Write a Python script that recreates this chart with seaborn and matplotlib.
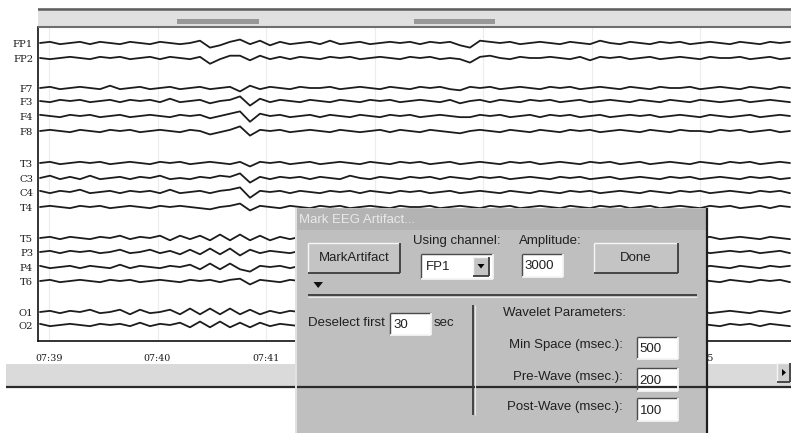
import numpy as np
import pandas as pd
import matplotlib
matplotlib.use("Agg")
import matplotlib.pyplot as plt
from matplotlib.patches import Rectangle, Polygon
import seaborn as sns

# ---------------- data ----------------
channels = ["FP1", "FP2", "F7", "F3", "F4", "F8", "T3", "C3", "C4", "T4",
            "T5", "P3", "P4", "T6", "O1", "O2"]
tick_labels = ["07:39", "07:40", "07:41", "07:42", "07:43", "07:44", "07:45"]
tick_minutes = [0, 1, 2, 3, 4, 5, 6]
# artifact marks (minutes after 07:39)
artifact_start = [1.18, 3.36]
artifact_end = [1.94, 4.11]

# trace amplitudes (screen px, up positive), one sample every ~0.092 min
FP1 = [0, 1, -1, 0, 1, -1, 1, 0, -1, 1,
       0, -1, 1, 0, -1, 0, 2, -4, -2, 1,
       3, -1, 2, -2, 1, -1, 0, 1, -1, 2,
       -1, 0, 1, -1, 0, 1, 0, 1, -1, 1,
       0, 1, -2, -4, 2, 1, 0, 1, -1, 0,
       1, 0, -1, 1, 0, -1, 2, 0, -1, 1,
       0, -1, 1, 0, 1, -1, 0, 1, 0, -1,
       1, 0, -1, 1, 0, 1]
FP2 = [0, -1, 0, 1, 0, -1, 1, 0, 1, -1,
       0, 1, -1, 1, 0, -1, 1, -5, -1, 2,
       2, -2, 2, -1, 1, -1, 1, 0, -1, 1,
       0, 1, -1, 0, 1, 0, -1, 1, 0, 1,
       -1, 0, -1, -4, 1, 2, 0, -1, 1, 0,
       0, 1, 0, -1, 1, -2, 1, 0, 1, -1,
       0, 1, -1, 0, 1, 0, -1, 1, 0, 0,
       1, -1, 0, 1, -1, 0]
F7 = [0, 1, -1, 0, 1, 0, -1, 2, -1, 0,
      1, -1, 0, 1, -1, 0, 1, -1, 0, 1,
      -3, 2, -1, 1, 0, -1, 1, 0, 0, 1,
      -1, 0, 1, 0, -1, 1, 0, -1, 1, 0,
      1, -1, -2, 1, 0, 1, -1, 0, 1, 0,
      -1, 1, 0, 1, -1, 0, 1, 0, -1, 1,
      0, -1, 1, 0, 0, 1, -1, 0, 1, 0,
      -1, 1, 0, -1, 1, 0]
F3 = [0, -1, 1, 0, 1, -1, 0, 1, -1, 1,
      0, 1, -1, 2, -1, 0, 1, -2, 0, 1,
      4, -4, 2, -1, 1, 0, -1, 1, 0, -1,
      1, 0, -1, 1, 0, 1, -1, 0, 1, 0,
      -1, 1, -2, 0, 1, -1, 1, 0, -1, 1,
      0, 1, -1, 0, 1, -1, 0, 1, 0, -1,
      1, 0, -1, 1, 0, -1, 1, 0, -1, 0,
      1, -1, 0, 1, 0, -1]
F4 = [1, 0, -1, 1, 0, 1, -1, 0, 1, -1,
      0, 1, 0, -1, 1, 0, 1, -2, 0, 2,
      4, -5, 2, 0, 1, -1, 0, 1, -1, 1,
      0, -1, 1, 0, -1, 1, 0, 1, -1, 0,
      1, 0, -1, -1, 1, 0, 1, -1, 0, 1,
      -1, 1, 0, 1, -1, 0, 1, -1, 0, 1,
      0, 1, -1, 0, 1, 0, -1, 1, 0, -1,
      0, 1, -1, 0, 1, 0]
F8 = [0, 1, 0, -1, 1, 0, -1, 1, 0, 1,
      -1, 0, 1, 0, -1, 1, 0, -3, -1, 1,
      4, -4, 1, 0, 1, -1, 0, 1, 0, -1,
      1, 0, -1, 0, 1, -1, 1, 0, -1, 1,
      0, -1, -2, 0, 1, 0, -1, 1, 0, -1,
      1, 0, -1, 1, 0, 1, -1, 0, 1, 0,
      -1, 1, 0, -1, 1, 0, 0, -1, 1, 0,
      1, -1, 0, 1, -1, 0]
T3 = [0, 1, -1, 0, 1, 0, 1, -1, 0, 1,
      0, -1, 1, 0, 1, -1, 0, 1, 0, -1,
      1, -3, 1, 0, 1, -1, 0, 1, -1, 0,
      1, 0, -1, 1, 0, -1, 1, 0, 1, -1,
      0, 1, -1, 0, 1, 0, -1, 1, 0, 1,
      -1, 0, 1, 0, -1, 1, 0, 1, -1, 0,
      1, -1, 0, 1, 0, -1, 1, 0, -1, 1,
      0, 1, -1, 0, 1, 0]
C3 = [0, 2, -1, 1, -1, 2, -1, 0, 1, -1,
      1, 0, 2, -1, 0, -1, 1, 0, 2, 1,
      4, -4, 1, -1, 1, 0, 1, -1, 1, 0,
      -1, 2, 0, -1, 1, 0, -1, 1, 0, 1,
      -1, 1, 0, -1, 1, 0, 1, -1, 0, 1,
      0, -1, 1, 0, 1, -1, 0, 1, -1, 0,
      1, 0, -1, 1, 0, 1, -1, 0, 1, 0,
      -1, 1, 0, 1, -1, 0]
C4 = [1, -1, 1, 0, 2, -1, 0, 1, -1, 1,
      0, 1, -1, 2, -1, 0, 1, -1, 1, 2,
      4, -5, 1, 0, 1, -1, 1, 0, -1, 1,
      0, 1, -1, 1, 0, -1, 1, 0, 1, -1,
      0, 1, -1, 0, 1, 0, -1, 1, 0, -1,
      1, 0, -1, 1, 0, 1, -1, 0, 1, 0,
      -1, 1, 0, -1, 1, 0, 1, -1, 0, 1,
      0, -1, 1, 0, 1, -1]
T4 = [0, 1, 0, -1, 1, 0, 1, -1, 0, 1,
      0, -1, 1, 0, 1, 0, -1, -2, 0, 1,
      3, -3, 1, 0, -1, 1, 0, -1, 1, 0,
      1, -1, 0, 1, 0, -1, 1, 0, 0, 1,
      -1, 0, 1, 0, -1, 1, 0, 1, -1, 0,
      1, 0, -1, 1, 0, -1, 1, 0, 1, -1,
      0, 1, -1, 0, 1, 0, -1, 1, 0, 1,
      -1, 0, 1, -1, 1, 0]
T5 = [0, 1, -1, 1, 0, -1, 1, 0, 2, -1,
      1, 0, 2, -2, 2, -1, 2, -2, 3, -2,
      3, -2, 2, -2, 1, -1, 1, 0, -1, 1,
      0, 1, -1, 0, 1, -1, 0, 1, 0, -1,
      1, 0, -1, 1, 0, 1, -1, 0, 1, 0,
      -1, 1, 0, -1, 1, 0, 1, -1, 0, 1,
      0, -1, 1, 0, 1, -1, 0, 1, -1, 0,
      1, 0, -1, 1, 0, -1]
P3 = [0, 1, -1, 1, 0, 1, -1, 0, 2, -1,
      0, 2, -1, 1, -2, 2, -2, 3, -2, 3,
      -3, 2, -1, 1, 0, -1, 1, 0, 1, -1,
      0, 1, -1, 0, 1, 0, -1, 1, 0, 1,
      -1, 0, 1, -1, 1, 0, -1, 1, 0, -1,
      1, 0, -1, 1, 0, 1, -1, 0, 1, 0,
      -1, 1, 0, -1, 1, 0, 1, -1, 0, 1,
      0, 1, -1, 0, 1, -1]
P4 = [1, -1, 0, 1, -1, 1, 0, -1, 2, -1,
      1, 0, -1, 1, 0, 2, -2, 3, -2, 3,
      -2, -4, 1, 0, 1, -1, 1, 0, -1, 1,
      0, -1, 1, 0, 1, -1, 0, 1, -1, 0,
      1, 0, -1, 1, 0, -1, 1, 0, 1, -1,
      0, 1, -1, 0, 1, 0, -1, 1, 0, 1,
      -1, 0, 1, -1, 1, 0, -1, 1, 0, -1,
      1, 0, -1, 1, 0, 1]
T6 = [0, 1, -1, 0, 1, 0, -1, 1, 0, 1,
      -1, 0, 1, 0, -1, 1, 0, 1, -1, 1,
      2, -3, 1, 0, -1, 1, 0, 1, -1, 0,
      1, 0, -1, 1, 0, 1, -1, 0, 1, -1,
      0, 1, 0, -1, 1, 0, -1, 1, 0, 1,
      -1, 0, 1, -1, 0, 1, 0, -1, 1, 0,
      1, -1, 0, 1, 0, -1, 1, 0, -1, 1,
      0, -1, 1, 0, 1, -1]
O1 = [0, 1, -1, 1, 0, 2, -1, 0, 2, -2,
      2, -1, 0, 2, -2, 3, -2, 3, -2, 3,
      -2, 2, -2, 1, -1, 1, 0, -1, 1, 0,
      1, -1, 0, 1, -1, 0, 1, 0, -1, 1,
      0, -1, 1, 0, 1, -1, 0, 1, 0, -1,
      1, 0, -1, 1, 0, 1, -1, 0, 1, 0,
      -1, 1, 0, -1, 1, 0, 1, -1, 0, 1,
      0, -1, 1, 0, -1, 1]
O2 = [1, -1, 0, 1, 0, -1, 1, 0, 1, -1,
      2, -1, 1, 0, 2, -2, 3, -2, 3, -2,
      2, -2, 2, -1, 1, 0, -1, 1, 0, -1,
      0, 1, -1, 0, 1, 0, -1, 1, 0, 1,
      -1, 0, 1, -1, 1, 0, -1, 1, 0, 1,
      0, -1, 1, 0, -1, 1, 0, 1, -1, 0,
      1, 0, -1, 1, 0, -1, 1, 0, -1, 1,
      0, 1, -1, 1, 0, -1]
traces = [FP1, FP2, F7, F3, F4, F8, T3, C3, C4, T4, T5, P3, P4, T6, O1, O2]

# ---------------- layout ----------------
W, H = 791, 433
baselines = [43, 58, 88, 101, 116, 131, 163, 178, 192, 207,
             238, 252, 267, 281, 312, 325]          # screen rows
px_per_min = 108.5
t0 = -9 / px_per_min                 # first sample time
dt = 10 / px_per_min                 # sample spacing
ax_left, ax_right, ax_top, ax_bot = 38, 791, 8, 341

sample_times = t0 + dt * np.arange(len(FP1))
rows = []
for name, base, amp in zip(channels, baselines, traces):
    for t, a in zip(sample_times, amp):
        rows.append((name, t, base - 1.15 * a))
df = pd.DataFrame(rows, columns=["channel", "minute", "row"])

sns.set_theme(style="white")
plt.rcParams["font.family"] = ["DejaVu Sans"]

fig = plt.figure(figsize=(W / 100, H / 100), dpi=100)
fig.patch.set_facecolor("white")
ax = fig.add_axes([ax_left / W, (H - ax_bot) / H,
                   (ax_right - ax_left) / W, (ax_bot - ax_top) / H])
ax.set_facecolor("white")

xmin = (ax_left - 49) / px_per_min
xmax = (ax_right - 49) / px_per_min
ax.set_xlim(xmin, xmax)
ax.set_ylim(ax_bot, ax_top)

# faint minute grid
for m in tick_minutes:
    ax.axvline(m, color="#ececec", lw=0.8, zorder=0)

sns.lineplot(data=df, x="minute", y="row", units="channel", estimator=None,
             color="#1c1c1c", lw=1.3, legend=False, ax=ax, zorder=3)

# top artifact bar
ax.axhspan(ax_top, 27, color="#e0e0e0", zorder=1, lw=0)
ax.axhline(ax_top + 0.8, color="#5e5e5e", lw=1.8, zorder=4)
ax.axhline(27, color="#6e6e6e", lw=1.5, zorder=4)
for s, e in zip(artifact_start, artifact_end):
    ax.fill_between([s, e], 19, 23.5, color="#979797", lw=0, zorder=4)

for sp in ["top", "right"]:
    ax.spines[sp].set_visible(False)
ax.spines["left"].set_bounds(ax_bot, 27)
for sp in ["left", "bottom"]:
    ax.spines[sp].set_color("#111111")
    ax.spines[sp].set_linewidth(1.2)

ax.set_yticks(baselines)
ax.set_yticklabels(channels, fontfamily="DejaVu Serif", fontsize=7.2, color="#1a1a1a")
ax.set_xticks(tick_minutes)
ax.set_xticklabels(tick_labels, fontfamily="DejaVu Serif", fontsize=6.8, color="#1a1a1a")
ax.tick_params(axis="both", direction="inout", length=5, width=0.9, color="#111111")
ax.tick_params(axis="x", pad=7)
ax.tick_params(axis="y", pad=1)
ax.set_xlabel("")
ax.set_ylabel("")

# ---------------- overlay: scrollbar and dialog ----------------
ov = fig.add_axes([0, 0, 1, 1], zorder=10)
ov.set_xlim(0, W)
ov.set_ylim(H, 0)
ov.axis("off")
ov.patch.set_alpha(0)

def rect(x0, y0, x1, y1, fc, ec="none", lw=0):
    ov.add_patch(Rectangle((x0, y0), x1 - x0, y1 - y0, facecolor=fc, edgecolor=ec, lw=lw))

def line(xs, ys, c, lw=1.0):
    ov.plot(xs, ys, color=c, lw=lw, solid_capstyle="butt")

def bevel(x0, y0, x1, y1, fc, raised=True):
    rect(x0, y0, x1, y1, fc)
    light, dark = ("#f6f6f6", "#3c3c3c") if raised else ("#4a4a4a", "#f4f4f4")
    line([x0, x1], [y0, y0], light)
    line([x0, x0], [y0, y1], light)
    line([x0, x1], [y1, y1], dark, 1.3)
    line([x1, x1], [y0, y1], dark, 1.3)

# scrollbar
rect(6, 364, W, 387, "#dadada")
line([6, W], [386.5, 386.5], "#2a2a2a", 1.6)
bevel(777, 363, 790, 382, "#cfcfcf")
ov.add_patch(Polygon([(782, 369), (782, 376), (786, 372.5)], closed=True, fc="black", ec="none"))

DFONT = dict(fontfamily="Liberation Sans", fontsize=9.5, color="#202020")

# dialog body
rect(295, 208, 707, H, "#bfbfbf")
line([296, 296], [208, H], "#e4e4e4", 1.4)
line([706.5, 706.5], [208, H], "#1e1e1e", 1.6)
rect(297, 209, 705.5, 230, "#b3b3b3")
ov.text(299, 220, "Mark EEG Artifact...", ha="left", va="center",
        fontfamily="Liberation Sans", fontsize=9.5, color="#e9e9e9")

# buttons
bevel(308, 243, 400, 273, "#c4c4c4")
ov.text(354, 258, "MarkArtifact", ha="center", va="center", **DFONT)
bevel(594, 243, 678, 273, "#c4c4c4")
ov.text(636, 258, "Done", ha="center", va="center", **DFONT)
ov.add_patch(Polygon([(313.5, 282), (323, 282), (318.2, 288)], closed=True, fc="#111111", ec="none"))

# combo box
ov.text(413, 241, "Using channel:", ha="left", va="center", **DFONT)
bevel(421, 254, 493, 279, "white", raised=False)
ov.text(426, 267, "FP1", ha="left", va="center", **DFONT)
bevel(473, 257, 489, 276, "#c4c4c4")
ov.add_patch(Polygon([(477.5, 264), (484.5, 264), (481, 268.5)], closed=True, fc="black", ec="none"))

# amplitude
ov.text(519, 241, "Amplitude:", ha="left", va="center", **DFONT)
bevel(522, 254, 563, 277, "white", raised=False)
ov.text(524.5, 266, "3000", ha="left", va="center", **DFONT)

# separators
line([308, 697], [295, 295], "#3a3a3a", 1.3)
line([308, 697], [296.5, 296.5], "#e8e8e8", 0.8)
line([473, 473], [305, 415], "#3a3a3a", 1.3)
line([474.5, 474.5], [305, 415], "#e8e8e8", 0.8)

# deselect
ov.text(308, 323, "Deselect first", ha="left", va="center", **DFONT)
bevel(390, 313, 431, 335, "white", raised=False)
ov.text(393, 324.5, "30", ha="left", va="center", **DFONT)
ov.text(434, 323, "sec", ha="left", va="center", **DFONT)

# wavelet parameters
ov.text(503, 313, "Wavelet Parameters:", ha="left", va="center", **DFONT)
params = [("Min Space (msec.):", "500", 345, 337, 359),
          ("Pre-Wave (msec.):", "200", 377, 368, 391),
          ("Post-Wave (msec.):", "100", 407, 398, 421)]
for label, val, yc, yb0, yb1 in params:
    ov.text(623, yc, label, ha="right", va="center", **DFONT)
    bevel(637, yb0, 678, yb1, "white", raised=False)
    ov.text(639.5, (yb0 + yb1) / 2 + 1, val, ha="left", va="center", **DFONT)

fig.savefig("out.png", dpi=100, facecolor="white")
